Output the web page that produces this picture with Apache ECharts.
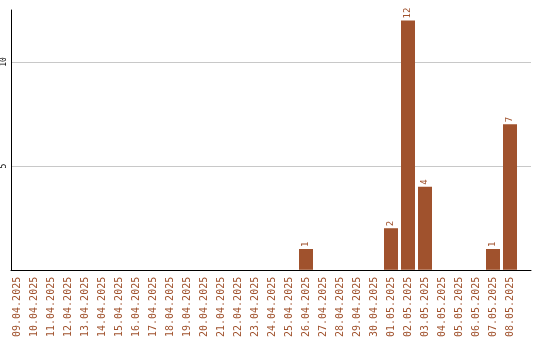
<!DOCTYPE html>
<html><head><meta charset="utf-8">
<script src="https://cdn.jsdelivr.net/npm/echarts@6/dist/echarts.min.js"></script>
<style>html,body{margin:0;padding:0;background:#fff}#c{width:540px;height:340px}</style>
</head><body><div id="c"></div>
<script>
const categories = ['09.04.2025','10.04.2025','11.04.2025','12.04.2025','13.04.2025','14.04.2025','15.04.2025','16.04.2025','17.04.2025','18.04.2025','19.04.2025','20.04.2025','21.04.2025','22.04.2025','23.04.2025','24.04.2025','25.04.2025','26.04.2025','27.04.2025','28.04.2025','29.04.2025','30.04.2025','01.05.2025','02.05.2025','03.05.2025','04.05.2025','05.05.2025','06.05.2025','07.05.2025','08.05.2025'];
const values = [0,0,0,0,0,0,0,0,0,0,0,0,0,0,0,0,0,1,0,0,0,0,2,12,4,0,0,0,1,7];
const yTicks = [5, 10];

const chart = echarts.init(document.getElementById('c'), null, {renderer:'canvas'});
const font = 'DejaVu Sans Mono';
chart.setOption({
  animation: false,
  grid: [
    {left: 10, right: 9, top: 10, bottom: 70},
    {left: 8.5, width: 510, top: 10, bottom: 70}
  ],
  xAxis: [
    {gridIndex: 0, type: 'value', min: 0, max: 1, axisLine: {show: true, onZero: false, lineStyle: {color: '#000', width: 1}}, axisTick: {show: false}, axisLabel: {show: false}, splitLine: {show: false}},
    {gridIndex: 1, type: 'category', data: categories, axisLine: {show: false}, axisTick: {show: false},
      axisLabel: {interval: 0, rotate: 90, margin: 7, color: '#a0522d', fontFamily: font, fontSize: 10}}
  ],
  yAxis: [
    {gridIndex: 0, type: 'value', min: 0, max: 12.5, interval: 5,
      axisLine: {show: true, lineStyle: {color: '#000', width: 1}}, axisTick: {show: false},
      axisLabel: {rotate: 90, margin: 3, color: '#000', fontFamily: font, fontSize: 8,
        formatter: v => yTicks.includes(v) ? String(v) : ''},
      splitLine: {show: true, showMinLine: false, showMaxLine: false, lineStyle: {color: '#c8c8c8', width: 1}}},
    {gridIndex: 1, type: 'value', min: 0, max: 12.5, show: false, splitLine: {show: false}}
  ],
  series: [{
    type: 'bar', xAxisIndex: 1, yAxisIndex: 1, data: values.map(v => v === 0 ? null : v), barWidth: 14,
    itemStyle: {color: '#a0522d'},
    label: {show: true, position: 'top', rotate: 90, align: 'left', verticalAlign: 'middle', distance: 2,
      color: '#a0522d', fontFamily: font, fontSize: 9}
  }]
});
</script></body></html>
